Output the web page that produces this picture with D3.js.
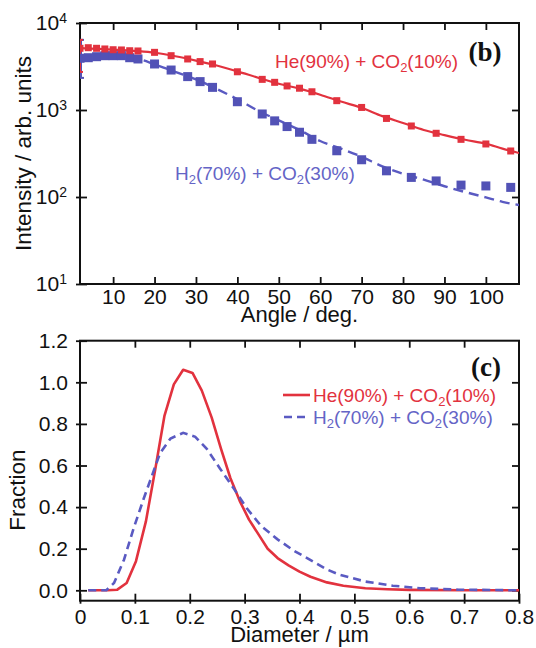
<!DOCTYPE html>
<html>
<head>
<meta charset="utf-8">
<script src="https://cdn.jsdelivr.net/npm/d3@7"></script>
<style>
    html, body { margin: 0; padding: 0; background: #fff; }
    svg { display: block; font-family: "Liberation Sans", Arial, sans-serif; }
</style>
</head>
<body>
<div id="chart"></div>
<script>
// panel (b): scattering intensity vs angle
const angles = [2, 4, 6, 8, 10, 12, 14, 16, 20, 24, 28, 31, 34, 40, 46, 49, 52, 55, 58, 64, 70, 76, 82, 88, 94, 100, 106];
const heIntensity = [5120, 5200, 5120, 5030, 4930, 4900, 4800, 4770, 4600, 4210, 3860, 3600, 3380, 2750, 2250, 2080, 1890, 1780, 1620, 1280, 1070, 800, 655, 540, 460, 407, 338];
const h2Intensity = [3930, 3990, 4100, 4210, 4210, 4210, 3990, 3860, 3380, 2880, 2420, 2120, 1820, 1245, 900, 750, 645, 555, 460, 340, 268, 200, 168, 153, 137, 134, 129];
// error bar of the first point [low, high]
const heFirstErr = [2740, 6400];
const h2FirstErr = [2340, 6400];

const fitAngles = [2, 10, 16, 20, 25, 30, 35, 40, 45, 50, 55, 60, 65, 70, 75, 80, 85, 90, 95, 100, 104, 108];
const heFit = [5150, 4950, 4750, 4550, 4150, 3700, 3250, 2780, 2350, 2000, 1760, 1500, 1250, 1060, 850, 710, 590, 515, 455, 410, 360, 320];
const h2Fit = [3950, 4050, 3850, 3350, 2750, 2250, 1750, 1330, 980, 760, 590, 440, 360, 290, 225, 185, 158, 133, 114, 99, 88, 81];

const angleTicks = [10, 20, 30, 40, 50, 60, 70, 80, 90, 100];
const intensityTicks = [10, 100, 1000, 10000];

// panel (c): size distribution
const heDiameter = [0.015, 0.033, 0.050, 0.068, 0.085, 0.102, 0.120, 0.137, 0.154, 0.171, 0.188, 0.205, 0.222, 0.240, 0.257, 0.274, 0.291, 0.308, 0.325, 0.342, 0.360, 0.38, 0.40, 0.42, 0.45, 0.48, 0.52, 0.56, 0.60, 0.70, 0.80];
const heFraction = [0, 0, 0, 0.003, 0.035, 0.14, 0.33, 0.58, 0.84, 0.99, 1.06, 1.045, 0.96, 0.83, 0.68, 0.54, 0.43, 0.34, 0.27, 0.20, 0.155, 0.12, 0.09, 0.065, 0.038, 0.022, 0.01, 0.005, 0.002, 0, 0];
const h2Diameter = [0.015, 0.033, 0.048, 0.062, 0.080, 0.098, 0.116, 0.131, 0.146, 0.165, 0.188, 0.210, 0.231, 0.255, 0.280, 0.304, 0.330, 0.360, 0.390, 0.425, 0.450, 0.474, 0.52, 0.57, 0.62, 0.69, 0.80];
const h2Fraction = [0, 0, 0, 0.035, 0.146, 0.30, 0.44, 0.55, 0.66, 0.73, 0.757, 0.738, 0.68, 0.586, 0.49, 0.394, 0.31, 0.245, 0.19, 0.138, 0.10, 0.074, 0.042, 0.022, 0.01, 0.003, 0];

const diameterTicks = [0, 0.1, 0.2, 0.3, 0.4, 0.5, 0.6, 0.7, 0.8];
const fractionTicks = [0, 0.2, 0.4, 0.6, 0.8, 1.0, 1.2];

const RED = '#e2323e';
const BLUE = '#5252b6';
const BLUE_LINE = '#5a5ac2';
const BLUE_TEXT = '#6464c6';

const svg = d3.select('#chart')
    .append('svg')
    .attr('width', 536)
    .attr('height', 648);

const left = 80, right = 519;

function styleAxis(g) {
    g.select('.domain').remove();
    g.selectAll('.tick line').attr('stroke', '#111').attr('stroke-width', 1.8);
    g.selectAll('text').attr('font-size', 21).attr('fill', '#111');
}

function frame(top, bottom) {
    svg.append('rect')
        .attr('x', left)
        .attr('y', top)
        .attr('width', right - left)
        .attr('height', bottom - top)
        .attr('fill', 'none')
        .attr('stroke', '#111')
        .attr('stroke-width', 2);
}

function gasLabel(x, y, color, isHe) {
    const t = svg.append('text')
        .attr('x', x)
        .attr('y', y)
        .attr('font-size', 19)
        .attr('fill', color);
    if (isHe) {
        t.html('He(90%) + CO<tspan font-size="13" dy="4">2</tspan><tspan dy="-4">(10%)</tspan>');
    } else {
        t.html('H<tspan font-size="13" dy="4">2</tspan><tspan dy="-4">(70%) + CO</tspan><tspan font-size="13" dy="4">2</tspan><tspan dy="-4">(30%)</tspan>');
    }
}

// ---------- panel (b) ----------
const bTop = 23, bBottom = 284;
const xb = d3.scaleLinear().domain([2, 108]).range([left, right]);
const yb = d3.scaleLog().domain([10, 10000]).range([bBottom, bTop]);

const bottomB = svg.append('g')
    .attr('transform', `translate(0,${bBottom})`)
    .call(d3.axisBottom(xb).tickValues(angleTicks).tickSize(-7).tickPadding(5));
styleAxis(bottomB);

const topB = svg.append('g')
    .attr('transform', `translate(0,${bTop})`)
    .call(d3.axisTop(xb).tickValues(angleTicks).tickSize(-7).tickFormat(''));
styleAxis(topB);

const leftB = svg.append('g')
    .attr('transform', `translate(${left},0)`)
    .call(d3.axisLeft(yb).tickValues(intensityTicks).tickSize(-7).tickPadding(13));
styleAxis(leftB);
leftB.selectAll('.tick line').attr('x1', -4);
leftB.selectAll('.tick text').each(function(d) {
    const t = d3.select(this);
    t.text('10');
    t.append('tspan')
        .attr('dy', '-0.55em')
        .attr('font-size', 14)
        .text(Math.round(Math.log10(d)));
});

const rightB = svg.append('g')
    .attr('transform', `translate(${right},0)`)
    .call(d3.axisRight(yb).tickValues([100, 1000]).tickSize(-7).tickFormat(''));
styleAxis(rightB);

frame(bTop, bBottom);

svg.append('clipPath').attr('id', 'clip-b')
    .append('rect').attr('x', left).attr('y', bTop).attr('width', right - left).attr('height', bBottom - bTop);

const plotB = svg.append('g').attr('clip-path', 'url(#clip-b)');

const fitLine = d3.line()
    .x(d => xb(d[0]))
    .y(d => yb(d[1]))
    .curve(d3.curveMonotoneX);

plotB.append('path')
    .attr('d', fitLine(fitAngles.map((a, i) => [a, h2Fit[i]])))
    .attr('fill', 'none')
    .attr('stroke', BLUE_LINE)
    .attr('stroke-width', 2.4)
    .attr('stroke-dasharray', '10,6');

plotB.append('path')
    .attr('d', fitLine(fitAngles.map((a, i) => [a, heFit[i]])))
    .attr('fill', 'none')
    .attr('stroke', RED)
    .attr('stroke-width', 2.2);

// error bars on the first points
[[h2FirstErr, BLUE, 1], [heFirstErr, RED, 0]].forEach(([err, color, off]) => {
    const ex = xb(angles[0]) + off;
    plotB.append('line')
        .attr('x1', ex).attr('x2', ex)
        .attr('y1', yb(err[0])).attr('y2', yb(err[1]))
        .attr('stroke', color).attr('stroke-width', 2);
    err.forEach(v => {
        plotB.append('line')
            .attr('x1', ex - 3).attr('x2', ex + 3)
            .attr('y1', yb(v)).attr('y2', yb(v))
            .attr('stroke', color).attr('stroke-width', 2);
    });
});

plotB.selectAll('.h2-pt')
    .data(angles.map((a, i) => [a, h2Intensity[i]]))
    .enter().append('rect')
    .attr('class', 'h2-pt')
    .attr('x', d => xb(d[0]) - 4.5)
    .attr('y', d => yb(d[1]) - 4.5)
    .attr('width', 9)
    .attr('height', 9)
    .attr('fill', BLUE);

plotB.selectAll('.he-pt')
    .data(angles.map((a, i) => [a, heIntensity[i]]))
    .enter().append('rect')
    .attr('class', 'he-pt')
    .attr('x', d => xb(d[0]) - 3.5)
    .attr('y', d => yb(d[1]) - 3.5)
    .attr('width', 7)
    .attr('height', 7)
    .attr('fill', RED);

gasLabel(275, 68, RED, true);
gasLabel(175, 180, BLUE_TEXT, false);

svg.append('text')
    .attr('x', 485)
    .attr('y', 61)
    .attr('text-anchor', 'middle')
    .attr('font-family', '"Liberation Serif", "DejaVu Serif", serif')
    .attr('font-weight', 'bold')
    .attr('font-size', 27)
    .attr('fill', '#111')
    .text('(b)');

svg.append('text')
    .attr('x', (left + right) / 2)
    .attr('y', 322)
    .attr('text-anchor', 'middle')
    .attr('font-size', 22)
    .attr('fill', '#111')
    .text('Angle / deg.');

svg.append('text')
    .attr('transform', `translate(31,${(bTop + bBottom) / 2}) rotate(-90)`)
    .attr('text-anchor', 'middle')
    .attr('font-size', 22.5)
    .attr('fill', '#111')
    .text('Intensity / arb. units');

// ---------- panel (c) ----------
const cTop = 340.7, cBottom = 600.7;
const xc = d3.scaleLinear().domain([0, 0.8]).range([left, right]);
const yc = d3.scaleLinear().domain([-0.05, 1.2]).range([cBottom, cTop]);

const bottomC = svg.append('g')
    .attr('transform', `translate(0,${cBottom})`)
    .call(d3.axisBottom(xc).tickValues(diameterTicks).tickSize(-7).tickPadding(8).tickFormat(d => d === 0 ? '0' : d3.format('.1f')(d)));
styleAxis(bottomC);
bottomC.selectAll('.tick line').attr('y1', 3);

const topC = svg.append('g')
    .attr('transform', `translate(0,${cTop})`)
    .call(d3.axisTop(xc).tickValues(diameterTicks.slice(1, -1)).tickSize(-7).tickFormat(''));
styleAxis(topC);

const leftC = svg.append('g')
    .attr('transform', `translate(${left},0)`)
    .call(d3.axisLeft(yc).tickValues(fractionTicks).tickSize(-7).tickPadding(12).tickFormat(d3.format('.1f')));
styleAxis(leftC);
leftC.selectAll('.tick line').attr('x1', -4);

const rightC = svg.append('g')
    .attr('transform', `translate(${right},0)`)
    .call(d3.axisRight(yc).tickValues(fractionTicks.slice(0, -1)).tickSize(-7).tickFormat(''));
styleAxis(rightC);

frame(cTop, cBottom);

const distLine = d3.line()
    .x(d => xc(d[0]))
    .y(d => yc(d[1]));

svg.append('path')
    .attr('d', distLine(heDiameter.map((s, i) => [s, heFraction[i]])))
    .attr('fill', 'none')
    .attr('stroke', RED)
    .attr('stroke-width', 2.6)
    .attr('stroke-linejoin', 'round');

svg.append('path')
    .attr('d', distLine(h2Diameter.map((s, i) => [s, h2Fraction[i]])))
    .attr('fill', 'none')
    .attr('stroke', BLUE_LINE)
    .attr('stroke-width', 2.6)
    .attr('stroke-dasharray', '8,5');

// legend
svg.append('line')
    .attr('x1', 283).attr('x2', 310)
    .attr('y1', 395).attr('y2', 395)
    .attr('stroke', RED).attr('stroke-width', 2.6);
svg.append('line')
    .attr('x1', 284).attr('x2', 310)
    .attr('y1', 417).attr('y2', 417)
    .attr('stroke', BLUE_LINE).attr('stroke-width', 2.6)
    .attr('stroke-dasharray', '8,5');

gasLabel(313, 402, RED, true);
gasLabel(313, 424, BLUE_TEXT, false);

svg.append('text')
    .attr('x', 486)
    .attr('y', 376)
    .attr('text-anchor', 'middle')
    .attr('font-family', '"Liberation Serif", "DejaVu Serif", serif')
    .attr('font-weight', 'bold')
    .attr('font-size', 27)
    .attr('fill', '#111')
    .text('(c)');

svg.append('text')
    .attr('x', (left + right) / 2)
    .attr('y', 642)
    .attr('text-anchor', 'middle')
    .attr('font-size', 22)
    .attr('fill', '#111')
    .text('Diameter / µm');

svg.append('text')
    .attr('transform', 'translate(25,490) rotate(-90)')
    .attr('text-anchor', 'middle')
    .attr('font-size', 22.5)
    .attr('fill', '#111')
    .text('Fraction');
</script>
</body>
</html>
